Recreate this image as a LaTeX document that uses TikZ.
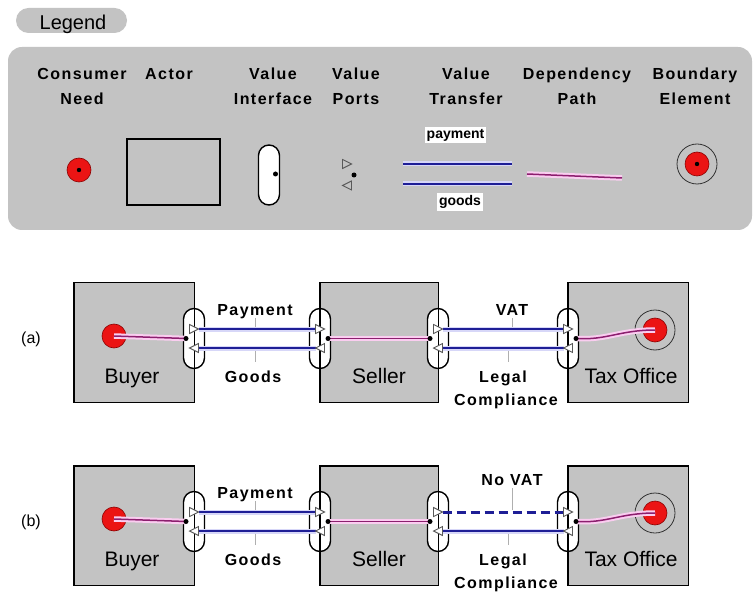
\documentclass[tikz,border=0pt]{standalone}
\usepackage{fontspec}
\setmainfont{Liberation Sans}
\newfontfamily\hdrfont[LetterSpace=9]{Liberation Sans}
\usetikzlibrary{calc}
\definecolor{boxgray}{RGB}{195,195,195}
\definecolor{navyline}{RGB}{30,30,150}
\definecolor{bluehalo}{RGB}{215,215,248}
\definecolor{depline}{RGB}{140,30,110}
\definecolor{dephalo}{RGB}{250,205,240}
\definecolor{needred}{RGB}{235,20,20}
\definecolor{tickgray}{RGB}{175,175,175}
\tikzset{
  actorbox/.style={rectangle, fill=boxgray, inner sep=0pt, minimum height=119pt},
  actoredge/.style={draw=black, line width=1.4pt},
  pill/.style={rectangle, rounded corners=10.5pt, draw=black, line width=1.4pt, fill=white, minimum width=21pt, minimum height=60pt, inner sep=0pt},
  port/.style={draw=black!65, fill=white, line width=0.9pt, line join=miter},
  vt/.style={draw=navyline, line width=1.8pt, preaction={draw=bluehalo, line width=5pt}},
  vtdash/.style={draw=navyline, line width=3pt, dash pattern=on 9pt off 5pt},
  dep/.style={draw=depline, line width=1.5pt, preaction={draw=dephalo, line width=5.5pt}},
  need/.style={circle, fill=needred, draw=red!55!black, line width=0.6pt, minimum size=24pt, inner sep=0pt},
  bnd/.style={circle, fill=boxgray, draw=black!80, line width=0.8pt, minimum size=40pt, inner sep=0pt},
  hdr/.style={font=\hdrfont\bfseries\fontsize{16}{20}\selectfont, anchor=base, inner sep=0pt},
  lbl/.style={font=\hdrfont\bfseries\fontsize{16}{20}\selectfont, anchor=base, inner sep=0pt},
  aname/.style={font=\fontsize{21}{25}\selectfont, anchor=base, inner sep=0pt},
  tagtext/.style={font=\fontsize{16}{19}\selectfont, anchor=base, inner sep=0pt},
  tick/.style={draw=tickgray, line width=0.8pt},
  smalllbl/.style={font=\bfseries\fontsize{14}{17}\selectfont, fill=white, inner sep=2pt},
}
\newcommand\ValIface[4]{%
  \node[pill] (#1) at (#2,#3) {};
  \coordinate (#1-u) at (#2,#3-9.5);
  \coordinate (#1-l) at (#2,#3+9.5);
  \coordinate (#1-d) at ({#2-(#4)*8},#3);
}
\newcommand\PortR[2][]{\draw[port,#1] (#2) ++(-4.5,-4.5) -- ++(9,4.5) -- ++(-9,4.5) -- cycle;}
\newcommand\PortL[2][]{\draw[port,#1] (#2) ++(4.5,-4.5) -- ++(-9,4.5) -- ++(9,4.5) -- cycle;}
\newcommand\Panel[6]{%
\begin{scope}[yshift=-#2pt]
  \node[actorbox, minimum width=120pt] (#1buyer) at (134,342.5) {};
  \node[actorbox, minimum width=118pt] (#1seller) at (379,342.5) {};
  \node[actorbox, minimum width=120pt] (#1tax) at (628,342.5) {};
  \ValIface{#1bi}{194}{338.5}{1}
  \ValIface{#1sl}{320}{338.5}{-1}
  \ValIface{#1sr}{438}{338.5}{1}
  \ValIface{#1ti}{568}{338.5}{-1}
  \draw[actoredge] (#1buyer.north west) rectangle (#1buyer.south east);
  \draw[actoredge] (#1seller.north west) rectangle (#1seller.south east);
  \draw[actoredge] (#1tax.north west) rectangle (#1tax.south east);
  \node[need] (#1need) at (114,336) {};
  \node[bnd] (#1bnd) at (655,330) {};
  \node[need] (#1bin) at (655,330) {};
  \draw[dep] (#1need.center) -- (#1bi-d);
  \draw[dep] (#1sl-d) -- (#1sr-d);
  \draw[dep] (#1ti-d) .. controls +(30,2) and +(-35,0) .. (#1bin.center);
  \draw[vt] ([xshift=4.5pt]#1bi-u) -- ([xshift=-4.5pt]#1sl-u);
  \draw[vt] ([xshift=4.5pt]#1bi-l) -- ([xshift=-4.5pt]#1sl-l);
  \draw[#4] ([xshift=4.5pt]#1sr-u) -- ([xshift=-4.5pt]#1ti-u);
  \draw[vt] ([xshift=4.5pt]#1sr-l) -- ([xshift=-4.5pt]#1ti-l);
  \PortR{#1bi-u}\PortL{#1bi-l}\PortR{#1sl-u}\PortL{#1sl-l}
  \PortR{#1sr-u}\PortL{#1sr-l}\PortR{#1ti-u}\PortL{#1ti-l}
  \fill (#1bi-d) circle (2.5pt);
  \fill (#1sl-d) circle (2.5pt);
  \fill (#1sr-d) circle (2.5pt);
  \fill (#1ti-d) circle (2.5pt);
  \node[lbl] (#1pay) at (255,315) {Payment};
  \node[lbl] (#1goods) at (253,382) {Goods};
  \node[lbl] (#1vat) at (512,#6) {#5};
  \node[lbl] (#1legal) at (503,382) {Legal};
  \node[lbl] (#1comp) at (506,405) {Compliance};
  \draw[tick] (255,318) -- (255,327);
  \draw[tick] (255,351) -- (255,362);
  \draw[tick] (512,#6+3) -- (512,327);
  \draw[tick] (508,351) -- (508,362);
  \node[aname] (#1bname) at (132,383) {Buyer};
  \node[aname] (#1sname) at (379,383) {Seller};
  \node[aname] (#1tname) at (631,383) {Tax Office};
  \node[tagtext] (#1tag) at (31,343) {#3};
\end{scope}}
\begin{document}
\begin{tikzpicture}[x=1pt,y=-1pt]
\useasboundingbox[fill=white] (0,0) rectangle (754,593);
% legend tag
\node[rectangle, rounded corners=12.5pt, fill=boxgray, minimum width=111pt, minimum height=25pt, inner sep=0pt] (legtag) at (71.5,20.5) {};
\node[font=\fontsize{20}{24}\selectfont, anchor=base, inner sep=0pt] (legtxt) at (73,29.5) {Legend};
% legend panel
\fill[boxgray, rounded corners=14pt] (8,47) rectangle (752,230);
% headers
\node[hdr] (hcn1) at (82,79.5) {Consumer};
\node[hdr] (hcn2) at (82,104.5) {Need};
\node[hdr] (hac) at (169,79.5) {Actor};
\node[hdr] (hvi1) at (273,79.5) {Value};
\node[hdr] (hvi2) at (273,104.5) {Interface};
\node[hdr] (hvp1) at (356,79.5) {Value};
\node[hdr] (hvp2) at (356,104.5) {Ports};
\node[hdr] (hvt1) at (466,79.5) {Value};
\node[hdr] (hvt2) at (466,104.5) {Transfer};
\node[hdr] (hdp1) at (577,79.5) {Dependency};
\node[hdr] (hdp2) at (577,104.5) {Path};
\node[hdr] (hbe1) at (695,79.5) {Boundary};
\node[hdr] (hbe2) at (695,104.5) {Element};
% legend icons
\node[need] (lneed) at (79,170) {};
\fill (lneed.center) circle (2.2pt);
\node[draw, line width=1.4pt, minimum width=93pt, minimum height=66pt, inner sep=0pt] (lactor) at (173.5,172) {};
\node[pill] (lpill) at (269,175) {};
\coordinate (lpill-d) at (275.5,174);
\fill (lpill-d) circle (2.5pt);
\coordinate (lpu) at (347,164);
\coordinate (lpl) at (347,185.5);
\coordinate (lpd) at (354,175);
\PortR[fill=none]{lpu}
\PortL[fill=none]{lpl}
\fill (lpd) circle (2.5pt);
\coordinate (lvt1a) at (403,164);
\coordinate (lvt1b) at (512,164);
\coordinate (lvt2a) at (403,184);
\coordinate (lvt2b) at (512,184);
\draw[vt] (lvt1a) -- (lvt1b);
\draw[vt] (lvt2a) -- (lvt2b);
\node[smalllbl] (lpay) at (455.5,135) {payment};
\node[smalllbl] (lgoods) at (460,202) {goods};
\coordinate (ldpa) at (527,174);
\coordinate (ldpb) at (622,178);
\draw[dep] (ldpa) -- (ldpb);
\node[bnd] (lbnd) at (697,164) {};
\node[need] (lbin) at (697,164) {};
\fill (lbin.center) circle (2.2pt);
% panels
\Panel{a}{0}{(a)}{vt}{VAT}{315}
\Panel{b}{183}{(b)}{vtdash}{No VAT}{302}
\end{tikzpicture}
\end{document}
